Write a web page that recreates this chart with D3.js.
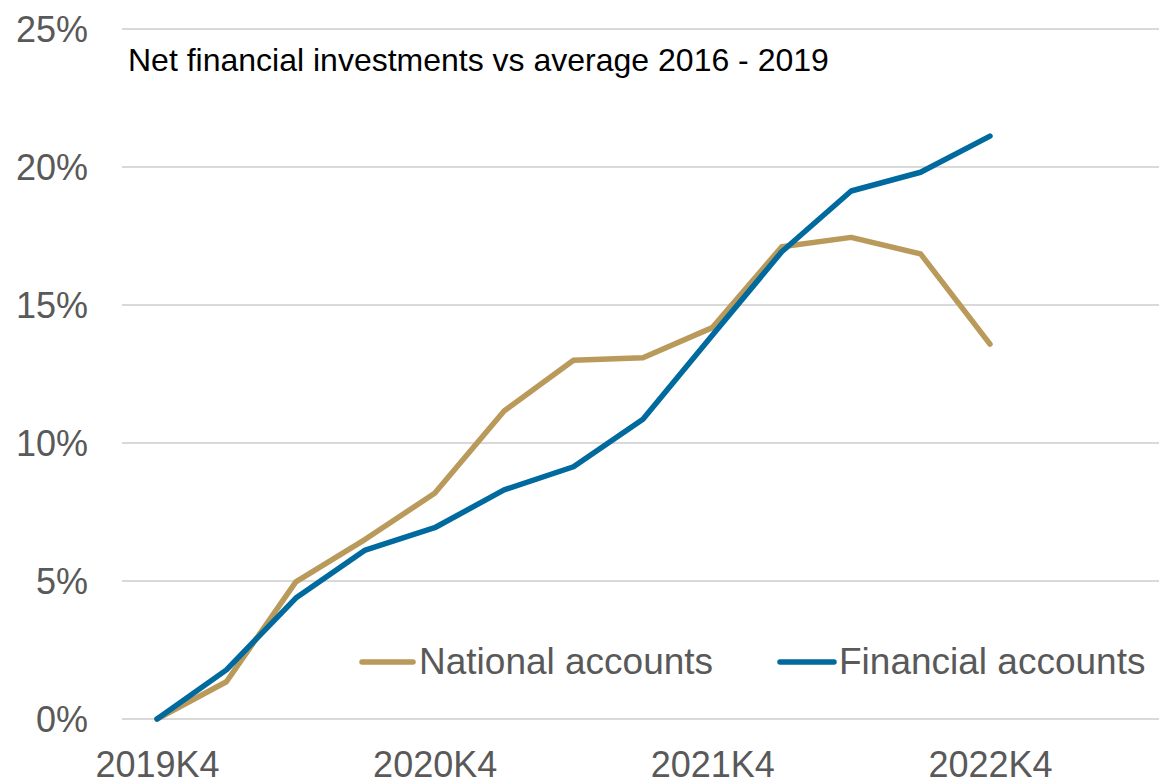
<!DOCTYPE html>
<html>
<head>
<meta charset="utf-8">
<script src="https://cdn.jsdelivr.net/npm/d3@7/dist/d3.min.js"></script>
<style>
  html, body { margin: 0; padding: 0; background: #fff; }
  svg { display: block; }
  text { font-family: "Liberation Sans", Arial, sans-serif; }
</style>
</head>
<body>
<svg id="chart" width="1159" height="779"></svg>
<script>
const categories = ["2019K4","2020K1","2020K2","2020K3","2020K4","2021K1","2021K2","2021K3","2021K4","2022K1","2022K2","2022K3","2022K4"];
const nationalAccounts = [0, 1.35, 4.97, 6.51, 8.18, 11.16, 13.0, 13.09, 14.18, 17.11, 17.45, 16.85, 13.58];
const financialAccounts = [0, 1.78, 4.38, 6.12, 6.93, 8.30, 9.14, 10.86, 13.9, 16.93, 19.13, 19.81, 21.12];
const xTickLabels = ["2019K4","2020K4","2021K4","2022K4"];
const yTicks = [0, 5, 10, 15, 20, 25];
const seriesNames = ["National accounts", "Financial accounts"];
const title = "Net financial investments vs average 2016 - 2019";

const colors = { national: "#B99A5B", financial: "#006A9E" };

const svg = d3.select("#chart");
const gridLeft = 122, gridRight = 1159;

const x = d3.scalePoint().domain(categories).range([157, 990]);
const y = d3.scaleLinear().domain([0, 25]).range([719, 29]);

// gridlines
svg.append("g").selectAll("line").data(yTicks).join("line")
  .attr("x1", gridLeft).attr("x2", gridRight)
  .attr("y1", d => y(d)).attr("y2", d => y(d))
  .attr("stroke", "#D9D9D9").attr("stroke-width", 2);

// y axis labels
const yAxis = d3.axisLeft(y).tickValues(yTicks).tickFormat(d => d + "%").tickSize(0).tickPadding(0);
const gy = svg.append("g").attr("transform", "translate(88,0)").call(yAxis);
gy.select(".domain").remove();
gy.selectAll("text").attr("font-size", 36).attr("fill", "#595959")
  .attr("font-family", "'Liberation Sans', Arial, sans-serif").attr("dy", "0.36em");

// x axis labels
const xAxis = d3.axisBottom(x).tickValues(xTickLabels).tickSize(0).tickPadding(0);
const gx = svg.append("g").attr("transform", "translate(0,777)").call(xAxis);
gx.select(".domain").remove();
gx.selectAll("text").attr("font-size", 36).attr("fill", "#595959")
  .attr("font-family", "'Liberation Sans', Arial, sans-serif").attr("dy", 0).attr("y", 0);

// title
svg.append("text").attr("x", 128).attr("y", 71).attr("font-size", 32).attr("fill", "#000")
  .text(title);

// lines
const line = d3.line().x((d, i) => x(categories[i])).y(d => y(d));
svg.append("path").datum(nationalAccounts).attr("d", line)
  .attr("fill", "none").attr("stroke", colors.national).attr("stroke-width", 5.5)
  .attr("stroke-linejoin", "round").attr("stroke-linecap", "round");
svg.append("path").datum(financialAccounts).attr("d", line)
  .attr("fill", "none").attr("stroke", colors.financial).attr("stroke-width", 5.5)
  .attr("stroke-linejoin", "round").attr("stroke-linecap", "round");

// legend
const legend = [
  { name: seriesNames[0], color: colors.national, x1: 362, x2: 413, tx: 419 },
  { name: seriesNames[1], color: colors.financial, x1: 780, x2: 834, tx: 839 }
];
const lg = svg.append("g");
legend.forEach(l => {
  lg.append("line").attr("x1", l.x1).attr("x2", l.x2).attr("y1", 662).attr("y2", 662)
    .attr("stroke", l.color).attr("stroke-width", 5.5).attr("stroke-linecap", "round");
  lg.append("text").attr("x", l.tx).attr("y", 674).attr("font-size", 37).attr("fill", "#595959")
    .text(l.name);
});
</script>
</body>
</html>
